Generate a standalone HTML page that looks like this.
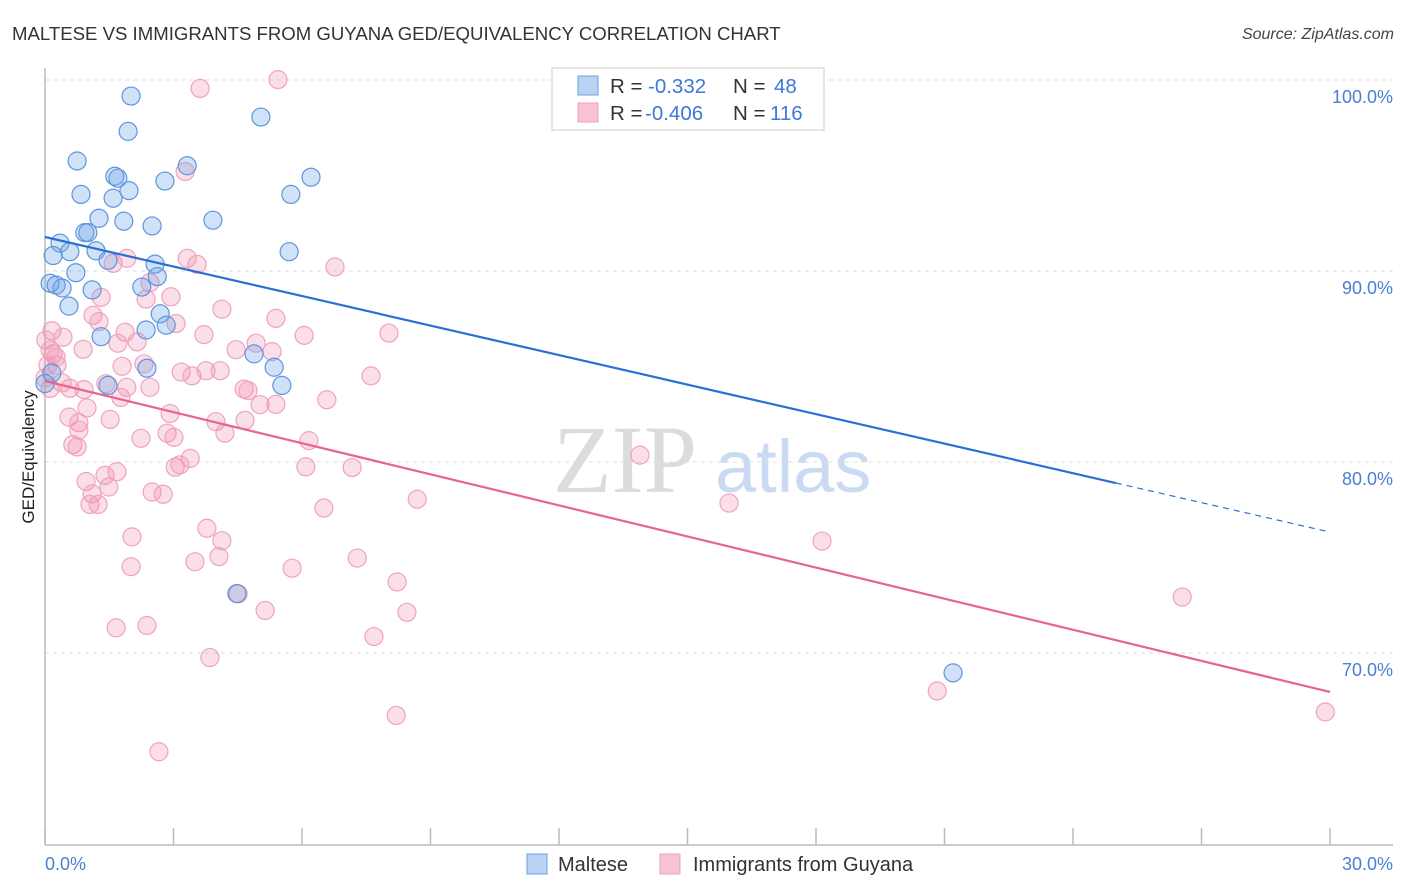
<!DOCTYPE html>
<html><head><meta charset="utf-8"><style>
body{margin:0;background:#fff;font-family:"Liberation Sans",sans-serif;}
svg{display:block}
</style></head><body>
<svg id="chart" width="1406" height="892">
<text x="12" y="40" font-size="18.6" fill="#333">MALTESE VS IMMIGRANTS FROM GUYANA GED/EQUIVALENCY CORRELATION CHART</text>
<text x="1394" y="39" font-size="16" fill="#444" font-style="italic" text-anchor="end">Source: ZipAtlas.com</text>
<text transform="translate(34,457) rotate(-90)" font-size="17" fill="#222" text-anchor="middle">GED/Equivalency</text>
<g>
<text x="553" y="492" font-family="Liberation Serif,serif" font-size="96" fill="#dcdcdc">ZIP</text>
<text x="715" y="492" font-size="74" fill="#c9daf2">atlas</text>
</g>
<g id="grid"></g>
<line x1="45" y1="68" x2="45" y2="845" stroke="#bbb" stroke-width="1.5"/>
<line x1="45" y1="845" x2="1393" y2="845" stroke="#bbb" stroke-width="1.5"/>
<g id="xticks"></g>
<g id="pts"></g>
<g id="trends"></g>
<g>
<rect x="552" y="68" width="272" height="62" fill="#fff" stroke="#ccc"/>
<rect x="578" y="76" width="20" height="19" fill="#b9d3f5" stroke="#6a9fe0"/>
<rect x="578" y="103" width="20" height="19" fill="#f9c3d3" stroke="#f0a0b8"/>
<text x="610" y="93" font-size="20.5" fill="#333">R = <tspan x="648" fill="#3b78d8">-0.332</tspan><tspan x="733">N = </tspan><tspan fill="#3b78d8" x="774">48</tspan></text>
<text x="610" y="120" font-size="20.5" fill="#333">R = <tspan x="645" fill="#3b78d8">-0.406</tspan><tspan x="733">N = </tspan><tspan fill="#3b78d8" x="770">116</tspan></text>
</g>
<g>
<rect x="527" y="854" width="20" height="20" fill="#b9d3f5" stroke="#6a9fe0"/>
<text x="558" y="871" font-size="20" fill="#333">Maltese</text>
<rect x="660" y="854" width="20" height="20" fill="#f9c3d3" stroke="#f0a0b8"/>
<text x="693" y="871" font-size="20" fill="#333">Immigrants from Guyana</text>
</g>
<text x="45" y="870" font-size="18" fill="#4a7fd4">0.0%</text>
<text x="1393" y="870" font-size="18" fill="#4a7fd4" text-anchor="end">30.0%</text>
</svg>
<script>
const yTicks=[100,90,80,70];
const yTickLabels=["100.0%","90.0%","80.0%","70.0%"];
const xTicks=[0,3,6,9,12,15,18,21,24,27,30];
const blueX=[2.01,1.94,5.04,0.75,3.32,6.21,1.70,0.84,2.80,1.96,1.59,5.74,1.26,1.84,2.50,3.92,0.93,1.00,0.35,5.70,0.58,0.19,1.19,1.47,2.57,2.62,0.72,0.12,0.26,0.40,1.10,2.26,0.56,2.69,2.83,2.36,1.31,4.88,5.35,2.38,1.47,5.53,4.48,21.2,14.29,0.16,0.0,1.63];
const blueY=[100.05,98.2,98.95,96.65,96.4,95.8,95.75,94.9,95.6,95.1,94.7,94.9,93.65,93.5,93.25,93.55,92.9,92.9,92.35,91.9,91.9,91.7,91.95,91.45,91.25,90.6,90.8,90.25,90.15,90.0,89.9,90.05,89.05,88.65,88.05,87.8,87.45,86.55,85.85,85.8,84.9,84.9,74.0,69.85,100.95,85.55,85.0,95.85];
const pinkX=[3.62,5.44,3.27,1.59,1.91,3.32,3.55,6.77,2.45,1.31,2.36,2.94,4.13,1.12,1.26,5.39,0.16,0.42,0.89,1.87,1.70,2.15,3.06,3.71,4.46,4.93,5.30,6.05,8.03,0.19,0.28,1.80,2.31,3.18,3.43,3.76,4.09,4.65,4.74,5.02,5.39,6.58,7.61,0.12,0.58,0.91,1.42,1.91,2.45,1.77,0.98,0.56,0.79,0.79,1.52,2.92,3.99,4.20,4.67,6.16,2.24,2.85,3.01,0.65,0.75,6.09,7.17,8.69,6.51,3.04,3.39,3.15,0.96,1.40,1.68,1.49,1.10,1.05,1.24,2.50,2.76,3.78,4.13,4.06,3.50,2.03,2.01,5.77,7.29,8.22,8.45,7.68,5.14,4.51,1.66,2.38,3.85,8.20,2.66,13.89,15.97,18.14,26.55,20.83,29.89,0.02,0.12,0.26,0.0,0.40,0.07];
const pinkY=[100.45,100.91,96.10,91.29,91.55,91.55,91.24,91.10,90.28,89.51,89.42,89.54,88.89,88.57,88.24,88.41,87.76,87.42,86.79,87.68,87.11,87.18,88.14,87.56,86.77,87.11,86.67,87.52,87.64,86.55,85.96,85.90,86.03,85.60,85.40,85.67,85.67,84.71,84.63,83.89,83.91,84.15,85.40,84.75,84.75,84.68,84.99,84.80,84.80,84.27,83.72,83.24,82.95,82.56,83.12,83.43,83.00,82.40,83.07,82.01,82.13,82.40,82.18,81.80,81.68,80.64,80.60,78.94,78.48,80.62,81.08,80.74,79.87,80.19,80.38,79.58,79.22,78.67,78.67,79.32,79.20,77.42,76.77,75.94,75.67,76.97,75.41,75.33,75.86,74.61,73.02,71.75,73.12,73.99,72.21,72.33,70.65,67.62,65.72,81.25,78.74,76.75,73.82,68.90,67.80,87.28,86.75,86.38,85.29,85.03,85.97];
const blueTrend=[[0,92.67],[25,79.79],[30,77.22]];
const pinkTrend=[[0,85.13],[30,68.85]];

const NS="http://www.w3.org/2000/svg";
const xS=v=>45+v*(1285/30);
const yS=v=>97+(100-v)*19.1;
function mk(tag,attrs,parent){const e=document.createElementNS(NS,tag);for(const k in attrs)e.setAttribute(k,attrs[k]);parent.appendChild(e);return e;}
const grid=document.getElementById('grid');
yTicks.forEach((t,i)=>{
  const l=mk('line',{x1:45,x2:1393,y1:yS(t)-17,y2:yS(t)-17,stroke:'#ddd','stroke-dasharray':'4,4'},grid);
  
  
  const tx=mk('text',{x:1393,y:yS(t)+6,'font-size':18,fill:'#4a7fd4','text-anchor':'end'},grid);
  tx.textContent=yTickLabels[i];
  
  
});
const xt=document.getElementById('xticks');
xTicks.forEach(t=>{
  const l=mk('line',{x1:xS(t),x2:xS(t),y1:828,y2:845,stroke:'#bbb','stroke-width':1.5},xt);
  
  
});
const pts=document.getElementById('pts');
pinkX.forEach((x,i)=>{
  const c=mk('circle',{cx:xS(x),cy:yS(pinkY[i]),r:9,fill:'rgba(242,140,172,0.28)',stroke:'#f0a3bb','stroke-width':1.2},pts);
  
  
});
blueX.forEach((x,i)=>{
  const c=mk('circle',{cx:xS(x),cy:yS(blueY[i]),r:9,fill:'rgba(110,165,232,0.32)',stroke:'#5f95dc','stroke-width':1.2},pts);
  
  
});
const tr=document.getElementById('trends');
const b1=mk('line',{x1:xS(blueTrend[0][0]),y1:yS(blueTrend[0][1]),x2:xS(blueTrend[1][0]),y2:yS(blueTrend[1][1]),stroke:'#2a6fd6','stroke-width':2.2},tr);


const b2=mk('line',{x1:xS(blueTrend[1][0]),y1:yS(blueTrend[1][1]),x2:xS(blueTrend[2][0]),y2:yS(blueTrend[2][1]),stroke:'#2a6fd6','stroke-width':1.2,'stroke-dasharray':'6,5'},tr);


const p1=mk('line',{x1:xS(pinkTrend[0][0]),y1:yS(pinkTrend[0][1]),x2:xS(pinkTrend[1][0]),y2:yS(pinkTrend[1][1]),stroke:'#e8648f','stroke-width':2.2},tr);


</script>
</body></html>
